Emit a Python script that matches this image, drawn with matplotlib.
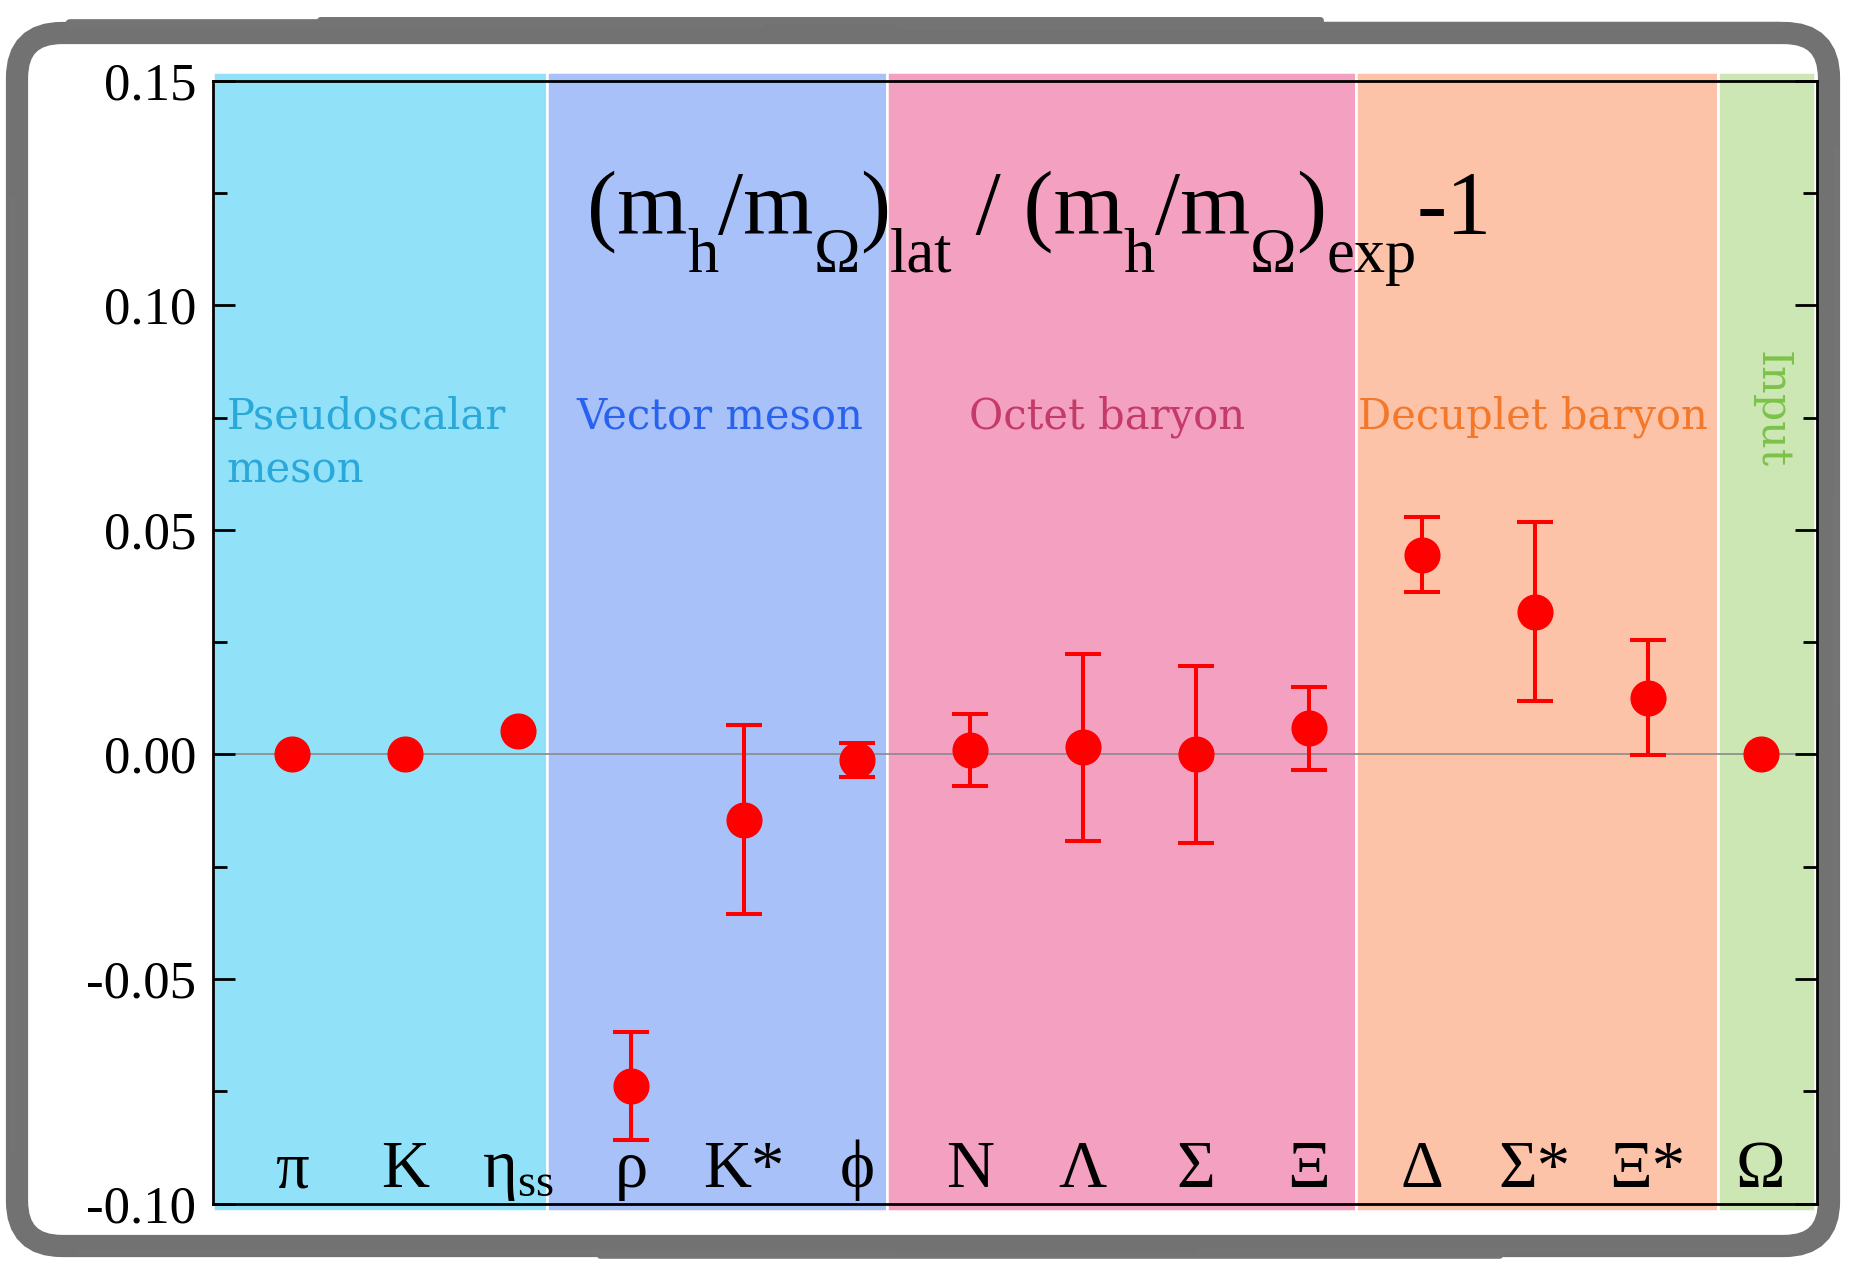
import matplotlib
matplotlib.use("Agg")
import matplotlib.pyplot as plt
from matplotlib.patches import FancyBboxPatch
import numpy as np

plt.rcParams['mathtext.fontset'] = 'custom'
plt.rcParams['mathtext.rm'] = 'Liberation Serif'
plt.rcParams['mathtext.it'] = 'Liberation Serif:italic'
plt.rcParams['mathtext.bf'] = 'Liberation Serif:bold'

# ---- data ----
hadrons = ['π', 'K', 'η$_{\\mathrm{ss}}$', 'ρ', 'K*', 'ϕ',
           'N', 'Λ', 'Σ', 'Ξ', 'Δ', 'Σ*', 'Ξ*', 'Ω']
values = [0.0, 0.0, 0.0053, -0.0737, -0.0145, -0.0013, 0.0010, 0.0016, 0.0000, 0.0058,
          0.0445, 0.0318, 0.0126, 0.0]
errors = [np.nan, np.nan, np.nan, 0.012, 0.021, 0.0038, 0.008, 0.0208, 0.0196, 0.0092,
          0.0084, 0.0199, 0.0128, np.nan]
group_names = ['Pseudoscalar\nmeson', 'Vector meson', 'Octet baryon', 'Decuplet baryon', 'Input']
group_edges = [-0.70, 2.26, 5.27, 9.42, 12.62, 13.48]
band_colors = ['#91e1f9', '#a8c1f9', '#f4a0c0', '#fcc3a8', '#cce6b4']
text_colors = ['#2aa8da', '#2a62f0', '#c43a68', '#f4782a', '#7cc24a']
yticks = [-0.10, -0.05, 0.00, 0.05, 0.10, 0.15]
ytick_labels = ['-0.10', '-0.05', '0.00', '0.05', '0.10', '0.15']
# title pieces: (text, is_subscript)
title_pieces = [('(m', False), ('h', True), ('/m', False), ('Ω', True), (')', False),
                ('lat', True), (' / (m', False), ('h', True), ('/m', False), ('Ω', True),
                (')', False), ('exp', True), ('-1', False)]

W, H = 1856, 1262
fig = plt.figure(figsize=(W/100, H/100), dpi=100)
fig.patch.set_facecolor('white')

# background axes in pixel units for the frame
bg = fig.add_axes([0, 0, 1, 1], zorder=-10)
bg.set_xlim(0, W)
bg.set_ylim(H, 0)
bg.axis('off')
frame = FancyBboxPatch((17, 33), W - 17 - 27, H - 33 - 16,
                       boxstyle='round,pad=0,rounding_size=45',
                       facecolor='white', edgecolor='#727272', linewidth=16)
bg.add_patch(frame)
# rough strokes overlapping the frame to imitate the brushed border
for (x0, x1, yy, lw) in [(70, 760, 24, 7), (320, 1320, 20, 5), (900, 1780, 26, 6),
                         (80, 900, 1252, 5), (600, 1500, 1256, 4), (1200, 1790, 1250, 5)]:
    bg.plot([x0, x1], [yy, yy], color='#747474', lw=lw, solid_capstyle='round')
for (xx, y0, y1, lw) in [(12, 200, 800, 5), (13, 600, 1150, 4), (1836, 150, 700, 5),
                         (1835, 500, 1150, 4)]:
    bg.plot([xx, xx], [y0, y1], color='#747474', lw=lw, solid_capstyle='round')

ax = fig.add_axes([0.1148, 0.0461, 0.8642, 0.8901], zorder=1)
ax.set_facecolor('none')
x = np.arange(len(hadrons))
ax.set_xlim(-0.70, 13.50)
ax.set_ylim(-0.10, 0.15)

# category bands
for i in range(len(group_names)):
    ax.axvspan(group_edges[i], group_edges[i+1], ymin=-0.006, ymax=1.008,
               facecolor=band_colors[i], edgecolor='white', linewidth=1.8,
               clip_on=False, zorder=0)

ax.axhline(0, color='#8a8a8a', linewidth=1.2, zorder=1)

ax.errorbar(x, values, yerr=errors, fmt='o', color='#ff0000', ecolor='#ff0000',
            markersize=25, elinewidth=2.9, capsize=13, capthick=2.9, zorder=3)

# hadron labels
for xi, lab in zip(x, hadrons):
    ax.text(xi, -0.0963, lab, ha='center', va='baseline', fontsize=48,
            family=['Liberation Serif', 'DejaVu Serif'], zorder=4)

# group labels
gx = [-0.58, 2.52, 5.99, 9.44]
for i in range(4):
    ax.text(gx[i], 0.0800, group_names[i], ha='left', va='top', fontsize=30,
            family='DejaVu Serif', color=text_colors[i], linespacing=1.38, zorder=4)
ax.text(13.1, 0.0768, group_names[4], ha='center', va='center', rotation=-90,
        fontsize=31, family='DejaVu Serif', color=text_colors[4], zorder=4)

ax.set_yticks(yticks)
ax.set_yticklabels(ytick_labels, family='Liberation Serif', fontsize=38)
ax.set_yticks(np.arange(-0.075, 0.15, 0.05), minor=True)
ax.tick_params(axis='y', which='major', direction='in', length=16, width=2,
               right=True, pad=12)
ax.tick_params(axis='y', which='minor', direction='in', length=10, width=2, right=True)
ax.set_xticks([])
for s in ax.spines.values():
    s.set_linewidth(2)
    s.set_color('black')
    s.set_zorder(5)

# title formula, built piece by piece (large, deeply lowered subscripts)
renderer = fig.canvas.get_renderer()
main_fs, sub_fs = 65, 45
base_y = H - 234          # baseline in pixels from bottom
sub_drop = 38
cur_x = 0.0
pieces = []
for txt, sub in title_pieces:
    y = base_y - (sub_drop if sub else 0)
    t = fig.text(cur_x / W, y / H, txt, fontsize=sub_fs if sub else main_fs,
                 family='Liberation Serif', ha='left', va='baseline', zorder=6)
    bb = t.get_window_extent(renderer)
    cur_x += bb.width
    pieces.append(t)
total = cur_x
start = 878 * W / 1568 - total / 2
for t in pieces:
    px, py = t.get_position()
    t.set_position((px + start / W, py))

fig.savefig('out.png', dpi=100)
